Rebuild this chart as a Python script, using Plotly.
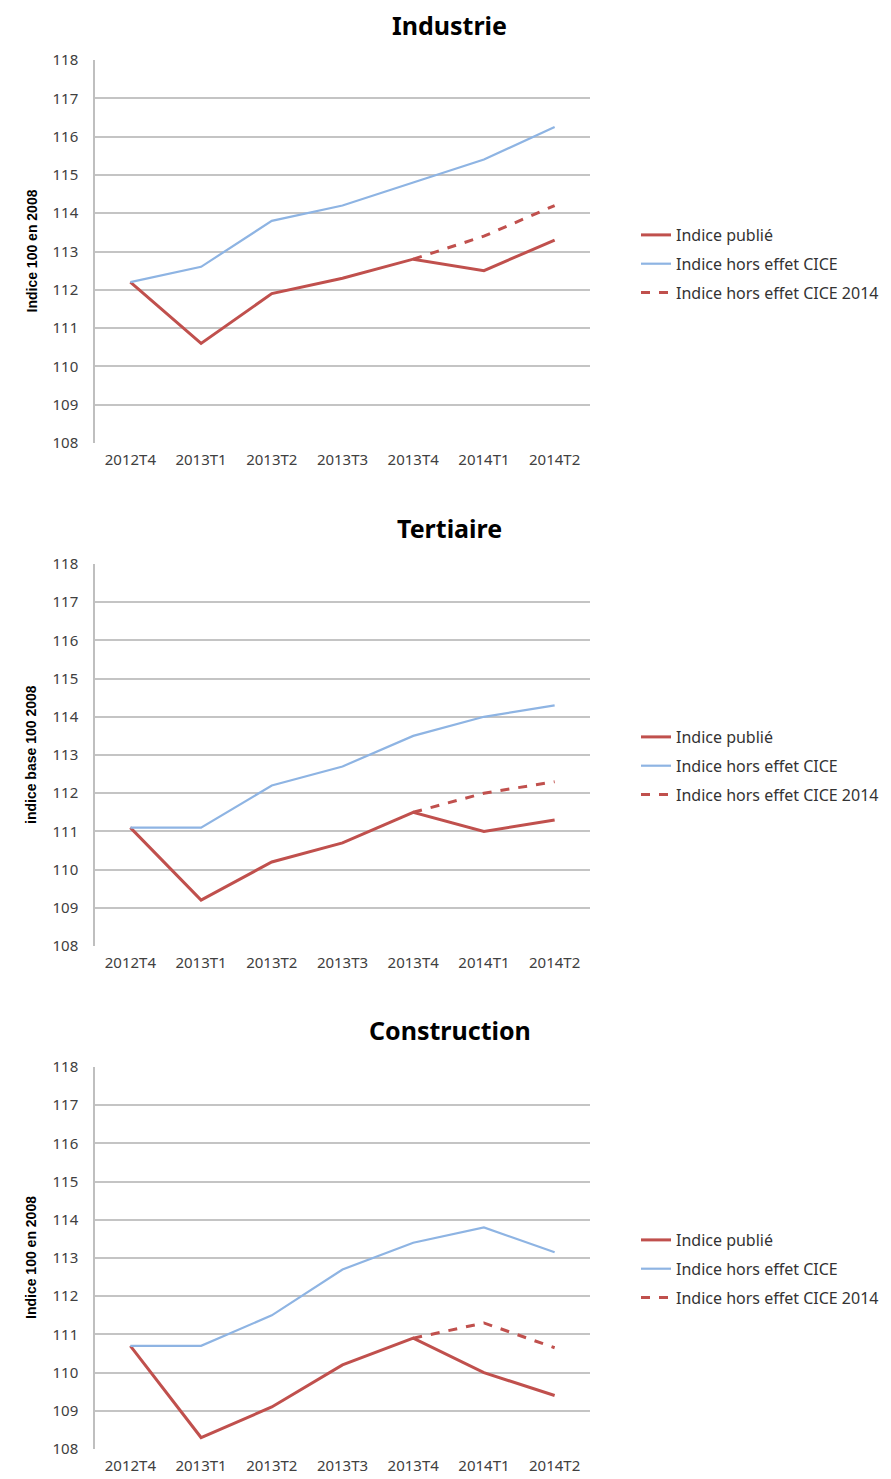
import plotly.graph_objects as go

categories = ["2012T4", "2013T1", "2013T2", "2013T3", "2013T4", "2014T1", "2014T2"]
tick_values = [108, 109, 110, 111, 112, 113, 114, 115, 116, 117, 118]

panel_titles = ["Industrie", "Tertiaire", "Construction"]
y_titles = ["Indice 100 en 2008", "indice base 100 2008", "Indice 100 en 2008"]
series_names = ["Indice publié", "Indice hors effet CICE", "Indice hors effet CICE 2014"]

industrie_publie = [112.2, 110.6, 111.9, 112.3, 112.8, 112.5, 113.3]
industrie_hors = [112.2, 112.6, 113.8, 114.2, 114.8, 115.4, 116.25]
industrie_2014 = [None, None, None, None, 112.8, 113.4, 114.2]

tertiaire_publie = [111.1, 109.2, 110.2, 110.7, 111.5, 111.0, 111.3]
tertiaire_hors = [111.1, 111.1, 112.2, 112.7, 113.5, 114.0, 114.3]
tertiaire_2014 = [None, None, None, None, 111.5, 112.0, 112.3]

construction_publie = [110.7, 108.3, 109.1, 110.2, 110.9, 110.0, 109.4]
construction_hors = [110.7, 110.7, 111.5, 112.7, 113.4, 113.8, 113.15]
construction_2014 = [None, None, None, None, 110.9, 111.3, 110.65]

panels = [
    (industrie_publie, industrie_hors, industrie_2014),
    (tertiaire_publie, tertiaire_hors, tertiaire_2014),
    (construction_publie, construction_hors, construction_2014),
]

OFF = 8  # default page body margin
W, H = 891 - OFF, 1479 - OFF
RED = "#C0504D"
BLUE = "#8EB4E3"
FONT = "Noto Sans"

def fx(sx):
    return (sx - OFF) / W

def fy(sy):
    return 1 - (sy - OFF) / H

# screen pixel layout (top, bottom) of each plot area
plot_px = [(60, 443), (564, 946), (1067, 1449)]
legend_px = [218, 720, 1223]
title_px = [25, 528, 1030]
x0_px, x1_px = 95, 590

fig = go.Figure()
layout = dict(
    width=W, height=H,
    margin=dict(l=0, r=0, t=0, b=0, autoexpand=False),
    paper_bgcolor="white", plot_bgcolor="white",
    font=dict(family=FONT, size=15, color="#404040"),
    annotations=[],
)

for i, (pub, hors, c14) in enumerate(panels):
    n = "" if i == 0 else str(i + 1)
    xa, ya = "x" + n, "y" + n
    leg = "legend" + n
    top, bot = plot_px[i]
    fig.add_trace(go.Scatter(x=categories, y=pub, mode="lines", name=series_names[0],
                             line=dict(color=RED, width=3), xaxis=xa, yaxis=ya,
                             legend=leg, legendgroup=f"a{i}"))
    fig.add_trace(go.Scatter(x=categories, y=hors, mode="lines", name=series_names[1],
                             line=dict(color=BLUE, width=2.2), xaxis=xa, yaxis=ya,
                             legend=leg, legendgroup=f"b{i}"))
    fig.add_trace(go.Scatter(x=categories, y=c14, mode="lines", name=series_names[2],
                             line=dict(color=RED, width=3, dash="dash"), xaxis=xa, yaxis=ya,
                             legend=leg, legendgroup=f"c{i}"))
    layout["xaxis" + n] = dict(
        domain=[fx(x0_px), fx(x1_px)], anchor=ya, type="category",
        range=[-0.5, 6.5], showgrid=False, showline=False, ticks="",
        tickfont=dict(family=FONT, size=15, color="#404040"), zeroline=False,
        automargin=False, ticklabelstandoff=6,
    )
    layout["yaxis" + n] = dict(
        domain=[fy(bot), fy(top)], anchor=xa, range=[108, 118],
        tickvals=tick_values, showgrid=True, gridcolor="#C4C4C4", gridwidth=1.5,
        showline=True, linecolor="#BFBFBF", linewidth=1.5, ticks="", zeroline=False,
        tickfont=dict(family=FONT, size=15, color="#404040"),
        automargin=False, ticklabelstandoff=12,
    )
    layout[leg] = dict(
        x=fx(636), y=fy(legend_px[i]), xanchor="left", yanchor="top",
        font=dict(family=FONT, size=16, color="#333333"), tracegroupgap=5,
        bgcolor="rgba(0,0,0,0)",
    )
    layout["annotations"].append(dict(
        text=f"<b>{panel_titles[i]}</b>", x=fx(450), y=fy(title_px[i]),
        xref="paper", yref="paper", showarrow=False, xanchor="center", yanchor="middle",
        font=dict(family=FONT, size=25, color="#000000"),
    ))
    layout["annotations"].append(dict(
        text=f"<b>{y_titles[i]}</b>", x=fx(31), y=fy((top + bot) / 2),
        xref="paper", yref="paper", showarrow=False, textangle=-90,
        xanchor="center", yanchor="middle",
        font=dict(family="Liberation Sans Narrow, Liberation Sans", size=14, color="#000000"),
    ))

fig.update_layout(**layout)
fig.write_html("out.html")
